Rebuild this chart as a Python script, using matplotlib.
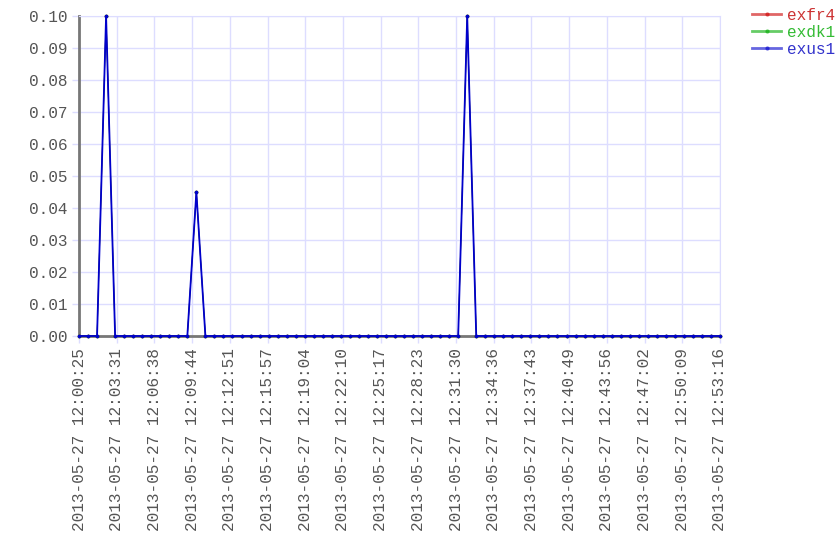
import matplotlib
matplotlib.use('Agg')
import matplotlib.pyplot as plt
import matplotlib.dates as mdates
import numpy as np
import pandas as pd

# sample times (72 samples between first and last reading)
t_start = '2013-05-27 12:00:25'
t_end = '2013-05-27 12:53:16'
n_samples = 72

# series values
exfr4 = [0, 0, 0, 0.10, 0, 0, 0, 0, 0, 0, 0, 0, 0, 0.045, 0, 0, 0, 0, 0, 0,
         0, 0, 0, 0, 0, 0, 0, 0, 0, 0, 0, 0, 0, 0, 0, 0, 0, 0, 0, 0,
         0, 0, 0, 0.10, 0, 0, 0, 0, 0, 0, 0, 0, 0, 0, 0, 0, 0, 0, 0, 0,
         0, 0, 0, 0, 0, 0, 0, 0, 0, 0, 0, 0]
exdk1 = list(exfr4)
exus1 = list(exfr4)

series_names = ['exfr4', 'exdk1', 'exus1']
series_values = [exfr4, exdk1, exus1]
line_colors = ['#cc0000', '#00aa00', '#0000cc']
line_widths = [0.6, 0.6, 1.3]
legend_text_colors = ['#cc3333', '#33bb33', '#3333cc']

y_ticks = [0.00, 0.01, 0.02, 0.03, 0.04, 0.05, 0.06, 0.07, 0.08, 0.09, 0.10]

times = pd.date_range(t_start, t_end, periods=n_samples)

plt.rcParams['font.family'] = ['Liberation Mono', 'DejaVu Sans Mono']
plt.rcParams['font.size'] = 11.6

fig = plt.figure(figsize=(8.4, 5.6), dpi=100)
ax = fig.add_axes([79 / 840, 1 - 336 / 560, (720 - 79) / 840, (336 - 16) / 560])

handles = []
for name, vals, c, lw in zip(series_names, series_values, line_colors, line_widths):
    h, = ax.plot(times, vals, color=c, lw=lw, marker='o', ms=2.6, mew=0,
                 label=name, zorder=3, clip_on=False)
    handles.append(h)

x0 = mdates.date2num(times[0])
x1 = mdates.date2num(times[-1])
ax.set_xlim(x0, x1)
ax.set_ylim(0, 0.10)
ax.set_xticks(np.linspace(x0, x1, 18))
ax.xaxis.set_major_formatter(mdates.DateFormatter('%Y-%m-%d %H:%M:%S'))
ax.set_yticks(y_ticks)
ax.set_yticklabels(['%.2f' % v for v in y_ticks])

for lbl in ax.get_xticklabels():
    lbl.set_rotation(90)

ax.grid(True, color='#ddddff', lw=1, zorder=0)
ax.tick_params(colors='#ddddff', labelcolor='#555555', length=5, width=1)
for side in ['top', 'right']:
    ax.spines[side].set_color('#ddddff')
ax.spines['left'].set_color('#777777')
ax.spines['left'].set_linewidth(2)
ax.spines['bottom'].set_color('#777777')
ax.spines['bottom'].set_linewidth(2)
ax.spines['bottom'].set_zorder(2)

leg = fig.legend(handles=handles, loc='upper left', bbox_to_anchor=(752 / 840, 1 - 8 / 560),
                 frameon=False, handlelength=1.83, handletextpad=0.37, labelspacing=0.12,
                 borderpad=0, borderaxespad=0)
for txt, c in zip(leg.get_texts(), legend_text_colors):
    txt.set_color(c)
for lh in leg.get_lines():
    lh.set_alpha(0.6)
    lh.set_linewidth(2)
    lh.set_markersize(3)

fig.savefig('out.png', dpi=100)
